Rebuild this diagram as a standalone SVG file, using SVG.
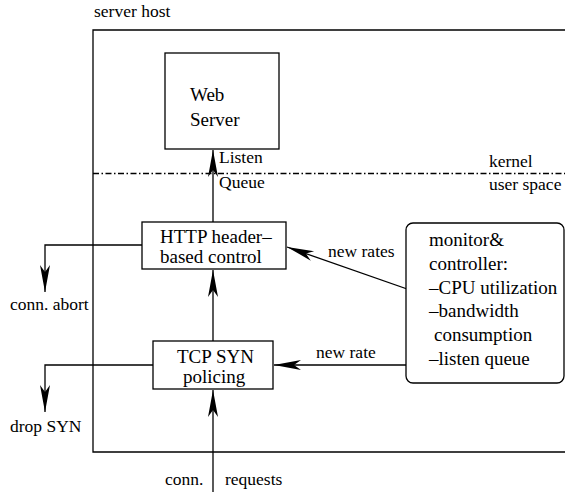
<svg xmlns="http://www.w3.org/2000/svg" width="565" height="492" viewBox="0 0 565 492">
  <style>
    text { font-family: "Liberation Serif", "Times New Roman", serif; fill: #000; }
    .big { font-size: 19px; }
    .small { font-size: 17.5px; }
    .box { fill: #fff; stroke: #000; stroke-width: 1.3; }
    .line { fill: none; stroke: #000; stroke-width: 1.3; }
    .arrow { fill: none; stroke: #000; stroke-width: 1.3; marker-end: url(#head); }
  </style>
  <defs>
    <marker id="head" markerUnits="userSpaceOnUse" viewBox="-28 -6 29 12" refX="0" refY="0" markerWidth="29" markerHeight="12" orient="auto">
      <path d="M0,0 L-27,-5 L-20,0 L-27,5 Z" fill="#000"/>
    </marker>
  </defs>
  <rect width="565" height="492" fill="#fff"/>

  <!-- host boundary, open on the right -->
  <g id="server-host">
    <path class="line" d="M565,30 H93 V452 H565"/>
    <text class="small" x="94" y="17">server host</text>
  </g>

  <!-- kernel / user space separator -->
  <g id="boundary">
    <line class="line" x1="93" y1="173.5" x2="565" y2="173.5" stroke-dasharray="6 2.5 1.5 2.5"/>
    <text class="small" x="489" y="167">kernel</text>
    <text class="small" x="489" y="190">user space</text>
  </g>

  <g id="connectors">
    <line class="arrow" x1="213" y1="222" x2="213" y2="150"/>
    <path class="arrow" d="M142,245 H45 V292"/>
    <line class="arrow" x1="213" y1="341" x2="213" y2="270"/>
    <path class="arrow" d="M153,365 H45 V412"/>
    <line class="arrow" x1="213" y1="492" x2="213" y2="390"/>
    <line class="arrow" x1="433" y1="365" x2="274" y2="365"/>
    <line class="arrow" x1="430" y1="297" x2="287" y2="247"/>
    <text class="small" x="219" y="163">Listen</text>
    <text class="small" x="219" y="188">Queue</text>
    <text class="small" x="328" y="257">new rates</text>
    <text class="small" x="316" y="358">new rate</text>
    <text class="small" x="10" y="310">conn. abort</text>
    <text class="small" x="10" y="432">drop SYN</text>
    <text class="small" x="165" y="485">conn.</text>
    <text class="small" x="225" y="485">requests</text>
  </g>

  <g id="web-server">
    <rect class="box" x="165" y="53" width="114" height="96"/>
    <text class="big" x="190" y="101">Web</text>
    <text class="big" x="190" y="126">Server</text>
  </g>

  <g id="http-control">
    <rect class="box" x="142" y="222" width="144" height="47"/>
    <text class="big" x="160" y="243">HTTP header–</text>
    <text class="big" x="160" y="262.5">based control</text>
  </g>

  <g id="tcp-syn">
    <rect class="box" x="153" y="341" width="120" height="48"/>
    <text class="big" x="177" y="363">TCP SYN</text>
    <text class="big" x="183" y="383">policing</text>
  </g>

  <g id="monitor">
    <rect class="box" x="406" y="223" width="158" height="160" rx="7" ry="7"/>
    <text class="big" x="429" y="246">monitor&amp;</text>
    <text class="big" x="429" y="269.8">controller:</text>
    <text class="big" x="429" y="293.6">–CPU utilization</text>
    <text class="big" x="429" y="317.4">–bandwidth</text>
    <text class="big" x="434" y="341.2">consumption</text>
    <text class="big" x="429" y="365">–listen queue</text>
  </g>
</svg>
